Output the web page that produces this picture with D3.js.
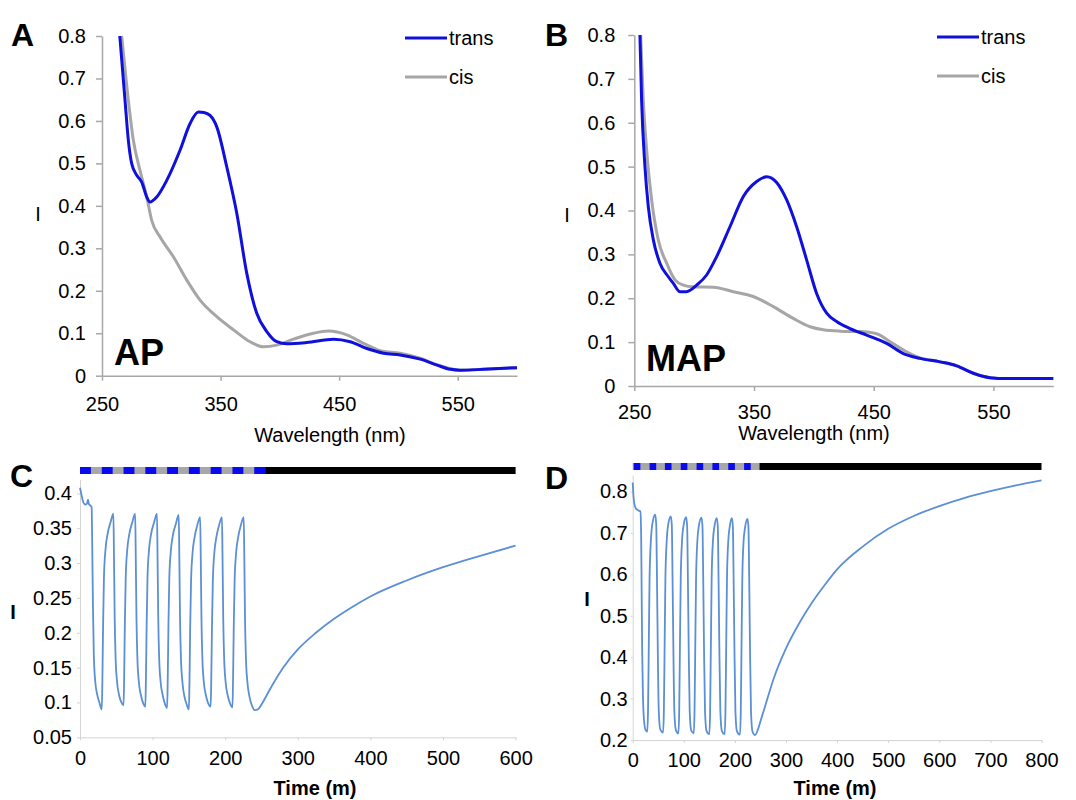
<!DOCTYPE html>
<html>
<head>
<meta charset="utf-8">
<script src="https://cdn.jsdelivr.net/npm/d3@7"></script>
<style>
  body { margin: 0; background: #fff; }
  svg { font-family: "Liberation Sans", Arial, Helvetica, sans-serif; }
</style>
</head>
<body>
<div id="chart"></div>
<script>
// ---- spectra (A: AP, B: MAP), [wavelength nm, I] ----
var waveTicks = [250, 350, 450, 550];
var specTicks = [0, 0.1, 0.2, 0.3, 0.4, 0.5, 0.6, 0.7, 0.8];

var apTrans = [[265,0.8],[269.4,0.649],[272.2,0.555],[275,0.5],[279.3,0.472],[283.5,0.456],[287.7,0.421],
  [290.5,0.409],[296.2,0.421],[304.6,0.46],[315.8,0.531],[324.3,0.594],[331.3,0.621],[336,0.62],[341.1,0.613],
  [346.8,0.586],[355.2,0.492],[363.7,0.382],[372.1,0.241],[380.5,0.147],[389,0.104],[397.4,0.08],[405.9,0.075],
  [422.7,0.078],[445.2,0.086],[459.3,0.08],[473.4,0.064],[487.5,0.053],[501.5,0.049],[518.4,0.039],
  [532.5,0.025],[543.7,0.015],[552.1,0.013],[571.8,0.015],[600,0.019]];
var apCis = [[266.6,0.8],[272.2,0.649],[276.4,0.555],[282,0.484],[287.7,0.421],[291.9,0.366],[298.9,0.327],
  [310.2,0.28],[321.5,0.225],[332.7,0.178],[346.8,0.139],[360.9,0.108],[374.9,0.08],[386.2,0.068],[397.4,0.072],
  [411.5,0.086],[428.4,0.1],[441,0.105],[456.5,0.096],[470.6,0.076],[484.6,0.059],[501.5,0.053],[518.4,0.041],
  [532.5,0.026],[543.7,0.017],[552,0.013],[572,0.015],[600,0.019]];

var mapTrans = [[254.7,0.8],[256.1,0.652],[258.9,0.5],[261.7,0.409],[265.9,0.333],[271.4,0.28],[278.4,0.249],
  [282.6,0.234],[288.2,0.215],[293.7,0.215],[302.1,0.23],[310.4,0.253],[318.8,0.295],[329.9,0.363],[341.1,0.432],
  [352.2,0.466],[360.6,0.477],[368.9,0.464],[377.3,0.424],[385.6,0.363],[394,0.287],[402.3,0.211],[410.7,0.166],
  [419,0.147],[430.2,0.131],[444.1,0.116],[460.8,0.097],[474.7,0.074],[488.7,0.063],[505.4,0.055],[519.3,0.046],
  [533.2,0.029],[547.1,0.019],[561.1,0.017],[600,0.017]];
var mapCis = [[255.3,0.8],[257.5,0.652],[260.3,0.538],[264.5,0.424],[270,0.333],[277,0.28],[284,0.242],
  [290.9,0.23],[299.3,0.226],[316,0.225],[332.7,0.215],[349.4,0.204],[366.1,0.181],[382.8,0.154],[396.8,0.135],
  [407.9,0.128],[421.8,0.125],[438.5,0.124],[452.4,0.119],[463.6,0.101],[477.5,0.078],[488.7,0.064],
  [505.4,0.055],[519.3,0.046],[533.2,0.029],[547.1,0.019],[561.1,0.017],[600,0.017]];

// ---- switching traces (C: AP, D: MAP), [time min, I] ----
var cTimeTicks = [0, 100, 200, 300, 400, 500, 600];
var cTicks = [0.05, 0.1, 0.15, 0.2, 0.25, 0.3, 0.35, 0.4];
var cTrace = [[0,0.408],[2,0.398],[4,0.389],[7,0.384],[9.5,0.385],[11,0.391],[12.5,0.384],[15,0.382],[16,0.380],
  [16.8,0.33],[17.8,0.24],[19,0.17],[21,0.13],[24,0.11],[27,0.099],[30,0.090],
  [30.8,0.13],[31.8,0.21],[33,0.28],[35,0.318],[38,0.342],[42,0.358],[46,0.371],
  [46.8,0.31],[47.8,0.22],[49,0.165],[51,0.13],[54,0.11],[57,0.1],[60,0.096],
  [60.8,0.135],[61.8,0.215],[63,0.28],[65,0.318],[68,0.342],[72,0.358],[76,0.371],
  [76.8,0.31],[77.8,0.22],[79,0.165],[81,0.13],[84,0.11],[87,0.099],[90,0.094],
  [90.8,0.133],[91.8,0.212],[93,0.28],[95,0.318],[98,0.342],[102,0.358],[106,0.371],
  [106.8,0.31],[107.8,0.22],[109,0.165],[111,0.13],[114,0.11],[117,0.098],[120,0.092],
  [120.8,0.13],[121.8,0.21],[123,0.278],[125,0.316],[128,0.34],[132,0.356],[136,0.369],
  [136.8,0.31],[137.8,0.22],[139,0.165],[141,0.13],[144,0.108],[147,0.097],[150,0.090],
  [150.8,0.13],[151.8,0.21],[153,0.276],[155,0.314],[158,0.338],[161.5,0.354],[165.5,0.366],
  [166.3,0.31],[167.3,0.22],[168.5,0.165],[170.5,0.13],[173.5,0.11],[176.5,0.099],[180,0.094],
  [180.8,0.133],[181.8,0.21],[183,0.276],[185,0.314],[188,0.338],[191.5,0.354],[195.5,0.366],
  [196.3,0.31],[197.3,0.22],[198.5,0.165],[200.5,0.13],[203.5,0.11],[206.5,0.099],[210,0.093],
  [210.8,0.132],[211.8,0.21],[213,0.276],[215,0.314],[218,0.338],[221.5,0.354],[225.5,0.366],
  [226.3,0.31],[227.3,0.22],[228.5,0.165],[230.5,0.13],[233.5,0.108],[237,0.095],[240.5,0.089],
  [245,0.09],[250,0.097],[257,0.11],[265,0.125],[280,0.15],[300,0.176],[325,0.2],
  [350,0.22],[375,0.237],[400,0.252],[450,0.275],[500,0.294],[550,0.31],[600,0.325]];

var dTimeTicks = [0, 100, 200, 300, 400, 500, 600, 700, 800];
var dTicks = [0.2, 0.3, 0.4, 0.5, 0.6, 0.7, 0.8];
var dTrace = [[0,0.822],[1.5,0.79],[3,0.772],[5,0.762],[8,0.757],[12,0.754],[15,0.752],
  [16.5,0.70],[17.5,0.56],[18.5,0.42],[20,0.31],[22,0.25],[25,0.225],[28.5,0.22],
  [30,0.27],[31.5,0.43],[33,0.59],[35.5,0.68],[38.5,0.722],[44,0.744],
  [46,0.722],[47.5,0.59],[49,0.43],[51,0.27],[54,0.225],[59.5,0.218],
  [61,0.27],[62.5,0.43],[64,0.59],[66.5,0.68],[69.5,0.72],[74.5,0.74],
  [76.5,0.72],[78,0.59],[79.5,0.43],[81.5,0.27],[84.5,0.224],[89.5,0.216],
  [91,0.27],[92.5,0.43],[94,0.59],[96.5,0.68],[99.5,0.718],[104.5,0.738],
  [106.5,0.718],[108,0.59],[109.5,0.43],[111.5,0.27],[114.5,0.223],[119.5,0.216],
  [121,0.27],[122.5,0.43],[124,0.59],[126.5,0.68],[129.5,0.717],[134.5,0.737],
  [136.5,0.717],[138,0.59],[139.5,0.43],[141.5,0.27],[144.5,0.222],[150,0.214],
  [151.5,0.27],[153,0.43],[154.5,0.59],[157,0.68],[160,0.716],[164.5,0.736],
  [166.5,0.716],[168,0.59],[169.5,0.43],[171.5,0.27],[174.5,0.222],[180,0.214],
  [181.5,0.27],[183,0.43],[184.5,0.59],[187,0.68],[190,0.716],[194,0.736],
  [196,0.716],[197.5,0.59],[199,0.43],[201,0.27],[204,0.221],[210,0.213],
  [211.5,0.27],[213,0.43],[214.5,0.59],[217,0.68],[220,0.714],[224.5,0.734],
  [226.5,0.714],[228,0.59],[229.5,0.43],[231.5,0.27],[234.5,0.22],[239.5,0.212],
  [245,0.225],[250,0.245],[260,0.285],[275,0.345],[300,0.421],[325,0.48],[350,0.53],[375,0.573],
  [400,0.612],[450,0.667],[500,0.71],[550,0.741],[600,0.765],[650,0.785],[700,0.801],[750,0.815],[800,0.827]];

// illumination bars: blue pulse starts (min), pulse length, start of dark period, end
var cBlue = [0, 30, 60, 90, 120, 150, 180, 210, 240];
var cPulse = 15, cDark = 255, cEnd = 600;
var dBlue = [2, 33, 63, 94, 125, 156, 187, 218];
var dPulse = 13, dDark = 248, dEnd = 800;

var svg = d3.select("#chart").append("svg")
  .attr("width", 1076)
  .attr("height", 800);

var line = d3.line()
  .curve(d3.curveMonotoneX)
  .x(function(d) { return d[0]; })
  .y(function(d) { return d[1]; });

function styleAxis(g, color, width) {
  g.select(".domain").attr("stroke", color).attr("stroke-width", width);
  g.selectAll(".tick line").attr("stroke", color).attr("stroke-width", width);
  g.selectAll(".tick text").attr("fill", "#000").style("font-size", "20px");
}

function trace(data, x, y, color, width) {
  svg.append("path")
    .attr("fill", "none")
    .attr("stroke", color)
    .attr("stroke-width", width)
    .attr("stroke-linejoin", "round")
    .attr("d", line(data.map(function(d) { return [x(d[0]), y(d[1])]; })));
}

function text(str, x, y, size, weight, anchor) {
  svg.append("text")
    .attr("x", x).attr("y", y)
    .attr("text-anchor", anchor || "start")
    .style("font-size", size + "px")
    .style("font-weight", weight || "normal")
    .text(str);
}

// ---- spectra panels ----
function spectrum(p) {
  var x = d3.scaleLinear().domain([250, 600]).range([p.left, p.right]);
  var y = d3.scaleLinear().domain([0, 0.8]).range([p.bottom, p.top]);

  svg.append("g")
    .attr("transform", "translate(0," + p.bottom + ")")
    .call(d3.axisBottom(x).tickValues(waveTicks).tickSizeInner(5).tickSizeOuter(0).tickPadding(p.padX))
    .call(styleAxis, "#a8a8a8", 1.5);
  svg.append("g")
    .attr("transform", "translate(" + p.left + ",0)")
    .call(d3.axisLeft(y).tickValues(specTicks).tickSizeInner(6).tickSizeOuter(0).tickPadding(p.padY)
      .tickFormat(function(d) { return String(d); }))
    .call(styleAxis, "#a8a8a8", 1.5);

  trace(p.cis, x, y, "#a6a6a6", 3);
  trace(p.trans, x, y, "#1010dc", 3);

  // legend
  svg.append("line").attr("x1", p.legX).attr("x2", p.legX + 42).attr("y1", p.top + 2).attr("y2", p.top + 2)
    .attr("stroke", "#1010dc").attr("stroke-width", 3);
  svg.append("line").attr("x1", p.legX).attr("x2", p.legX + 42).attr("y1", p.top + 41).attr("y2", p.top + 41)
    .attr("stroke", "#a6a6a6").attr("stroke-width", 3);
  text("trans", p.legX + 44, p.top + 9, 20);
  text("cis", p.legX + 44, p.top + 48, 20);

  text(p.letter, p.letterX, 46, 32, "bold");
  text(p.name, p.nameX, p.nameY, 36, "bold");
  text("I", p.iX, p.iY, 20, "normal", "middle");
  text("Wavelength (nm)", p.titleX, p.titleY, 20, "normal", "middle");
}

spectrum({ left: 102, right: 517, top: 36, bottom: 375.7, padX: 16, padY: 10,
  trans: apTrans, cis: apCis, legX: 405, letter: "A", letterX: 11, name: "AP", nameX: 114, nameY: 365,
  iX: 38, iY: 221, titleX: 330, titleY: 442 });
spectrum({ left: 634.3, right: 1053.3, top: 35, bottom: 386, padX: 14, padY: 13,
  trans: mapTrans, cis: mapCis, legX: 937, letter: "B", letterX: 545, name: "MAP", nameX: 646, nameY: 370.5,
  iX: 567, iY: 222, titleX: 814, titleY: 440 });

// ---- kinetics panels ----
function kinetics(p) {
  var x = d3.scaleLinear().domain([0, p.tEnd]).range([p.left, p.right]);
  var y = d3.scaleLinear().domain(p.yDomain).range([p.bottom, p.top]);

  svg.append("g")
    .attr("transform", "translate(0," + p.bottom + ")")
    .call(d3.axisBottom(x).tickValues(p.xTicks).tickSizeInner(3).tickSizeOuter(0).tickPadding(p.padX))
    .call(styleAxis, "#d4d4d4", 1);
  svg.append("g")
    .attr("transform", "translate(" + p.left + ",0)")
    .call(d3.axisLeft(y).tickValues(p.yTicks).tickSizeInner(p.tickY).tickSizeOuter(0).tickPadding(p.padY)
      .tickFormat(function(d) { return String(d); }))
    .call(styleAxis, "#d4d4d4", 1);

  trace(p.data, x, y, "#5b8fd6", 1.8);

  // illumination bar
  svg.append("rect").attr("x", x(0)).attr("y", p.barY).attr("width", x(p.dark) - x(0)).attr("height", 7)
    .attr("fill", "#a8a8a8");
  svg.selectAll(null).data(p.blue).enter().append("rect")
    .attr("x", function(d) { return x(d); })
    .attr("y", p.barY)
    .attr("width", x(p.pulse) - x(0))
    .attr("height", 7)
    .attr("fill", "#0a0af0");
  svg.append("rect").attr("x", x(p.dark)).attr("y", p.barY).attr("width", x(p.end) - x(p.dark)).attr("height", 7)
    .attr("fill", "#000");

  text(p.letter, p.letterX, p.letterY, 32, "bold");
  text("I", p.iX, p.iY, 20, "bold", "middle");
  text("Time (m)", p.titleX, 795, 20, "bold", "middle");
}

kinetics({ left: 80, right: 515.6, top: 479.4, bottom: 737.3, tEnd: 600, yDomain: [0.05, 0.42],
  xTicks: cTimeTicks, yTicks: cTicks, padX: 11, padY: 5, tickY: 3, data: cTrace,
  barY: 467, blue: cBlue, pulse: cPulse, dark: cDark, end: cEnd,
  letter: "C", letterX: 10, letterY: 487, iX: 13, iY: 619, titleX: 315 });
kinetics({ left: 632.7, right: 1041.5, top: 475, bottom: 740, tEnd: 800, yDomain: [0.2, 0.84],
  xTicks: dTimeTicks, yTicks: dTicks, padX: 10, padY: 3, tickY: 2, data: dTrace,
  barY: 463, blue: dBlue, pulse: dPulse, dark: dDark, end: dEnd,
  letter: "D", letterX: 545, letterY: 489, iX: 587, iY: 606, titleX: 835 });
</script>
</body>
</html>
